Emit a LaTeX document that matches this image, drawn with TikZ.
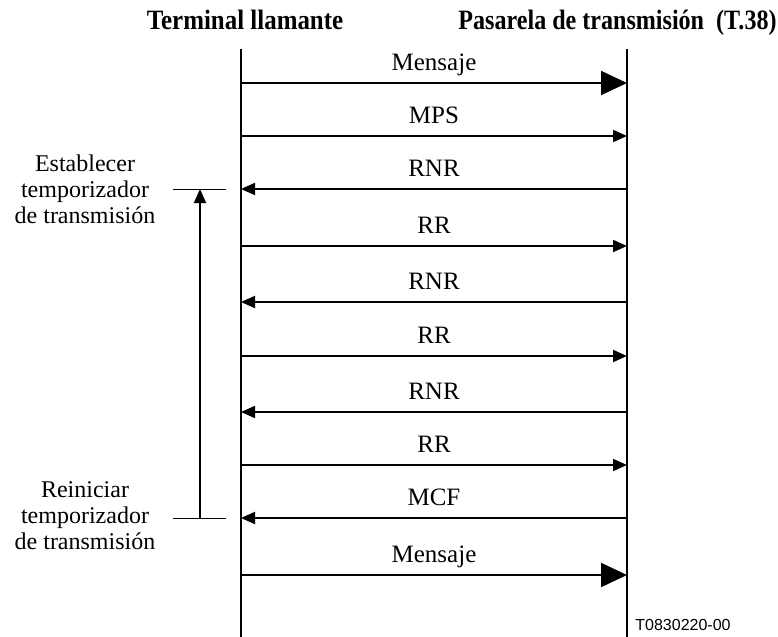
\documentclass[tikz,border=0pt]{standalone}
\usepackage{fontspec}
\setmainfont{Liberation Serif}
\newfontfamily\codefont{Liberation Sans}
\usetikzlibrary{arrows.meta}

\begin{document}
\begin{tikzpicture}[
    x=0.5pt, y=-0.5pt,
    msg/.style    = {line width=1pt,-{Triangle[length=7pt,width=6pt]}},
    bigmsg/.style = {line width=1pt,-{Triangle[length=13pt,width=12pt]}},
    life/.style   = {line width=1pt},
    tick/.style   = {line width=0.5pt},
    lbl/.style    = {font=\fontsize{12.5}{13}\selectfont,anchor=base,inner sep=0pt},
    side/.style   = {font=\fontsize{12}{13}\selectfont,align=center,inner sep=0pt},
    head/.style   = {font=\fontsize{14}{16}\selectfont\bfseries,anchor=base,inner sep=0pt}
  ]
  \useasboundingbox (0,0) rectangle (778,637);

  \node[head] (TL) at (245,30) {\scalebox{0.89}[1]{Terminal llamante}};
  \node[head,anchor=base east] (GW) at (777,30) {\scalebox{0.86}[1]{Pasarela de transmisión\ \ (T.38)}};

  \coordinate (Ttop) at (241,49);
  \coordinate (Tbot) at (241,637);
  \coordinate (Ptop) at (627,49);
  \coordinate (Pbot) at (627,637);
  \draw[life] (Ttop) -- (Tbot);
  \draw[life] (Ptop) -- (Pbot);

  \foreach \i/\y/\lbl/\sty/\src/\dst in {1/83/Mensaje/bigmsg/T/P, 2/136/MPS/msg/T/P,
      3/189/RNR/msg/P/T, 4/246/RR/msg/T/P, 5/302/RNR/msg/P/T, 6/356/RR/msg/T/P,
      7/412/RNR/msg/P/T, 8/465/RR/msg/T/P, 9/518/MCF/msg/P/T, 10/575/Mensaje/bigmsg/T/P} {
    \coordinate (T\i) at (241,\y);
    \coordinate (P\i) at (627,\y);
    \draw[\sty] (\src\i) -- (\dst\i);
    \node[lbl] (N\i) at (434,\y-13) {\lbl};
  }

  % timer
  \coordinate (setL) at (173,189);
  \coordinate (setR) at (226,189);
  \coordinate (setM) at (200,189);
  \coordinate (resL) at (173,518);
  \coordinate (resR) at (226,518);
  \coordinate (resM) at (200,518);
  \draw[tick] (setL) -- (setR);
  \draw[tick] (resL) -- (resR);
  \draw[msg] (resM) -- (setM);

  \node[side] (SET) at (85,189) {Establecer\\temporizador\\de transmisión};
  \node[side] (RES) at (85,516) {Reiniciar\\temporizador\\de transmisión};

  \node[font={\codefont\fontsize{8}{9}\selectfont},anchor=west,inner sep=0pt] (ID) at (635,625) {T0830220-00};
\end{tikzpicture}
\end{document}
